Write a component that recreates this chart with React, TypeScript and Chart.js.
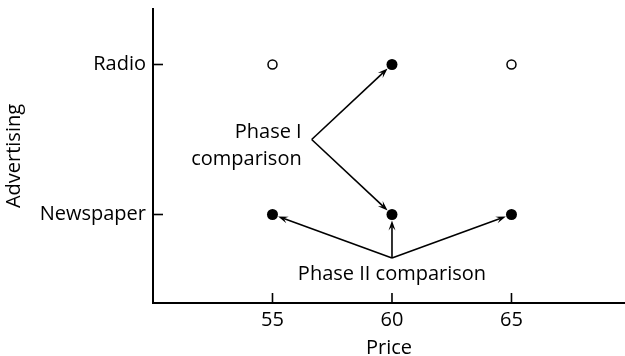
import React, { useEffect, useRef } from 'react';
import { Chart, registerables } from 'chart.js';
Chart.register(...registerables);

const priceTicks = [55, 60, 65];
const advertisingLevels = ['Newspaper', 'Radio'];
const filledPrices = [60, 55, 60, 65];
const filledAds = ['Radio', 'Newspaper', 'Newspaper', 'Newspaper'];
const openPrices = [55, 65];
const openAds = ['Radio', 'Radio'];

const phase1Label = ['Phase I', 'comparison'];
const phase1Anchor = { price: 56.64, level: 1.5 };
const phase1TargetPrices = [60, 60];
const phase1TargetAds = ['Radio', 'Newspaper'];

const phase2Label = ['Phase II comparison'];
const phase2Anchor = { price: 60, level: 0.71 };
const phase2TargetPrices = [55, 60, 65];
const phase2TargetAds = ['Newspaper', 'Newspaper', 'Newspaper'];

const FONT = '"Open Sans", sans-serif';
const FS = 20;
const levelOf = (ad: string) => advertisingLevels.indexOf(ad) + 1;

const drawArrow = (ctx: CanvasRenderingContext2D, x0: number, y0: number, x1: number, y1: number, stop: number) => {
  const dx = x1 - x0, dy = y1 - y0;
  const len = Math.hypot(dx, dy);
  const ux = dx / len, uy = dy / len;
  const ex = x1 - ux * stop, ey = y1 - uy * stop;
  const head = 10, half = 3.5;
  ctx.beginPath();
  ctx.moveTo(x0, y0);
  ctx.lineTo(ex - ux * head * 0.6, ey - uy * head * 0.6);
  ctx.stroke();
  const bx = ex - ux * head, by = ey - uy * head;
  ctx.beginPath();
  ctx.moveTo(ex, ey);
  ctx.lineTo(bx - uy * half, by + ux * half);
  ctx.lineTo(ex - ux * head * 0.6, ey - uy * head * 0.6);
  ctx.lineTo(bx + uy * half, by - ux * half);
  ctx.closePath();
  ctx.fill();
};

const annotationPlugin = {
  id: 'annotations',
  afterDatasetsDraw(chart: any) {
    const { ctx, scales } = chart;
    const xs = scales.x, ys = scales.y;
    ctx.save();
    ctx.strokeStyle = '#000';
    ctx.fillStyle = '#000';
    ctx.lineWidth = 1.6;
    const area = chart.chartArea;
    priceTicks.forEach((p) => {
      const x = xs.getPixelForValue(p);
      ctx.beginPath();
      ctx.moveTo(x, area.bottom);
      ctx.lineTo(x, area.bottom - 10);
      ctx.stroke();
    });
    advertisingLevels.forEach((_, i) => {
      const y = ys.getPixelForValue(i + 1);
      ctx.beginPath();
      ctx.moveTo(area.left, y);
      ctx.lineTo(area.left + 10, y);
      ctx.stroke();
    });
    const v1x = xs.getPixelForValue(phase1Anchor.price);
    const v1y = ys.getPixelForValue(phase1Anchor.level);
    phase1TargetPrices.forEach((p, i) => {
      drawArrow(ctx, v1x, v1y, xs.getPixelForValue(p), ys.getPixelForValue(levelOf(phase1TargetAds[i])), 6);
    });
    const v2x = xs.getPixelForValue(phase2Anchor.price);
    const v2y = ys.getPixelForValue(phase2Anchor.level);
    phase2TargetPrices.forEach((p, i) => {
      drawArrow(ctx, v2x, v2y, xs.getPixelForValue(p), ys.getPixelForValue(levelOf(phase2TargetAds[i])), 6);
    });
    ctx.font = `${FS}px ${FONT}`;
    ctx.textBaseline = 'alphabetic';
    ctx.textAlign = 'right';
    ctx.fillText(phase1Label[0], v1x - 10, v1y - 2);
    ctx.fillText(phase1Label[1], v1x - 10, v1y + 25);
    ctx.textAlign = 'center';
    ctx.fillText(phase2Label[0], v2x, v2y + 22);
    ctx.restore();
  },
};

export default function App() {
  const ref = useRef<HTMLCanvasElement>(null);
  useEffect(() => {
    const chart = new Chart(ref.current!, {
      type: 'scatter',
      data: {
        datasets: [
          {
            data: filledPrices.map((p, i) => ({ x: p, y: levelOf(filledAds[i]) })),
            backgroundColor: '#000',
            borderColor: '#000',
            pointRadius: 5.5,
            borderWidth: 0,
          },
          {
            data: openPrices.map((p, i) => ({ x: p, y: levelOf(openAds[i]) })),
            backgroundColor: '#fff',
            borderColor: '#000',
            pointRadius: 4.5,
            borderWidth: 1.5,
          },
        ],
      },
      options: {
        responsive: false,
        animation: false,
        layout: { autoPadding: false, padding: { top: 9, left: 0, right: 0, bottom: 0 } },
        plugins: { legend: { display: false }, tooltip: { enabled: false } },
        scales: {
          x: {
            type: 'linear',
            min: 50,
            max: 69.75,
            afterBuildTicks: (s: any) => { s.ticks = priceTicks.map((v) => ({ value: v })); },
            afterFit: (s: any) => { s.height = 53; s.paddingLeft = 0; s.paddingRight = 0; },
            grid: { display: false, drawTicks: false },
            border: { display: true, color: '#000', width: 2 },
            ticks: { color: '#000', font: { family: FONT, size: FS }, padding: 5, maxRotation: 0 },
            title: { display: true, text: 'Price', color: '#000', font: { family: FONT, size: FS }, padding: { top: 0, bottom: -4 } },
          },
          y: {
            type: 'linear',
            min: 0.41,
            max: 2.37,
            afterBuildTicks: (s: any) => { s.ticks = advertisingLevels.map((_, i) => ({ value: i + 1 })); },
            afterFit: (s: any) => { s.width = 153; s.paddingTop = 0; s.paddingBottom = 0; },
            grid: { display: false, drawTicks: false },
            border: { display: true, color: '#000', width: 2 },
            ticks: {
              color: '#000',
              font: { family: FONT, size: FS },
              padding: 7,
              callback: (v: any) => advertisingLevels[Number(v) - 1] ?? '',
            },
            title: { display: true, text: 'Advertising', color: '#000', font: { family: FONT, size: FS }, padding: { top: 2, bottom: 0 } },
          },
        },
      },
      plugins: [annotationPlugin],
    });
    return () => chart.destroy();
  }, []);
  return (
    <div style={{ position: 'absolute', left: 0, top: 0, width: 625, height: 356, background: '#fff' }}>
      <canvas ref={ref} width={625} height={356} />
    </div>
  );
}
